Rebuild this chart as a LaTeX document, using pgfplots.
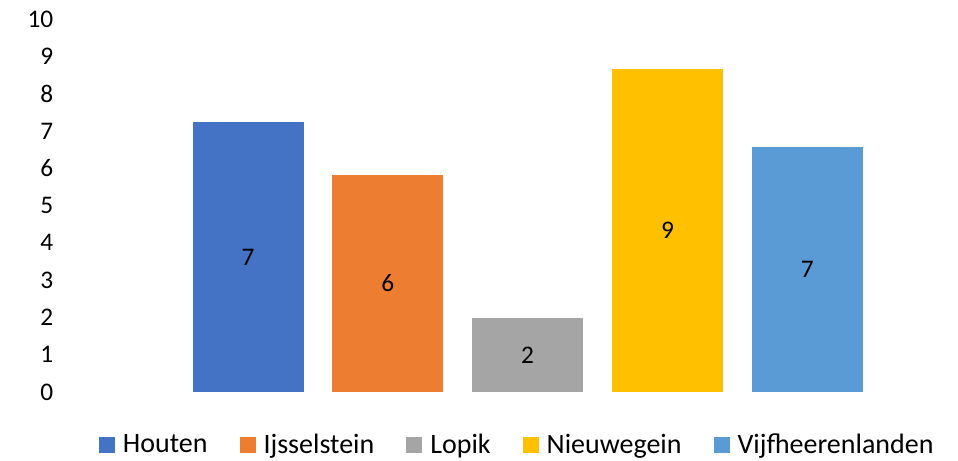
\documentclass[border=0pt]{standalone}
\usepackage{fontspec}
\setmainfont{Carlito}
\usepackage{pgfplots}
\pgfplotsset{compat=1.18}
\definecolor{c1}{HTML}{4472C4}
\definecolor{c2}{HTML}{ED7D31}
\definecolor{c3}{HTML}{A5A5A5}
\definecolor{c4}{HTML}{FFC000}
\definecolor{c5}{HTML}{5B9BD5}
\pgfplotsset{sq/.style={legend image code/.code={\fill[##1,draw=none] (0pt,-6pt) rectangle (12pt,6pt);}}}
\begin{document}
\begin{tikzpicture}
\useasboundingbox (-43.5pt,-51.75pt) rectangle (675pt,294pt);
\begin{axis}[
  at={(0,0)}, anchor=south west, scale only axis,
  width=661.5pt, height=279.75pt,
  xmin=-1.36, xmax=4.95, ymin=0, ymax=10,
  ytick={0,1,...,10}, xtick=\empty,
  axis line style={draw=none}, major tick style={draw=none},
  /pgf/number format/assume math mode=true,
  tick label style={font=\fontsize{19pt}{21pt}\selectfont},
  yticklabel style={anchor=east, xshift=0pt},
  ybar, bar width=0.793, bar shift=0pt,
  point meta=explicit symbolic,
  nodes near coords,
  visualization depends on=y \as \rawy,
  nodes near coords style={font=\fontsize{19pt}{21pt}\selectfont, text=black, anchor=center, shift={(axis direction cs:0,-\rawy/2)}},
  legend columns=-1,
  legend style={at={(0.521,-0.142)}, anchor=center, draw=none, fill=none,
    font=\fontsize{21pt}{23pt}\selectfont,
    /tikz/every odd column/.append style={column sep=4pt},
    /tikz/every even column/.append style={column sep=22pt},
    inner sep=0pt},
]
\addplot[fill=c1, draw=none, sq] coordinates {(0,7.24) [7]};
\addplot[fill=c2, draw=none, sq] coordinates {(1,5.82) [6]};
\addplot[fill=c3, draw=none, sq] coordinates {(2,1.98) [2]};
\addplot[fill=c4, draw=none, sq] coordinates {(3,8.66) [9]};
\addplot[fill=c5, draw=none, sq] coordinates {(4,6.57) [7]};
\legend{Houten,Ijsselstein,Lopik,Nieuwegein,Vijfheerenlanden}
\end{axis}
\end{tikzpicture}
\end{document}
